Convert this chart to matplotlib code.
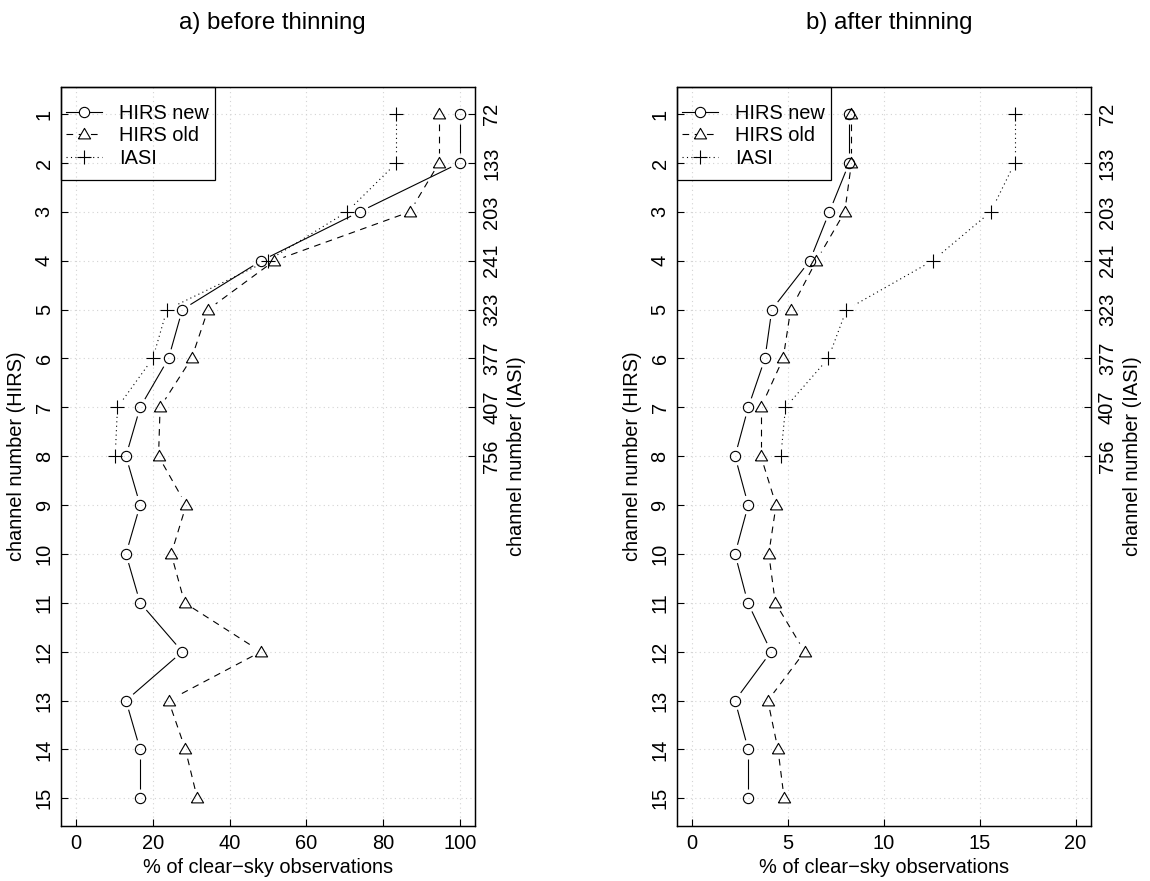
#!/usr/bin/env python3
"""Clear-sky observation percentages per HIRS channel, before/after thinning.

Two panels side by side; HIRS channel on the left axis, the matching IASI
channel on the right axis, R-style "type b" lines (segments stop short of
the markers).
"""

import matplotlib
matplotlib.use("Agg")
import matplotlib.pyplot as plt
import numpy as np
from matplotlib.lines import Line2D
from matplotlib.patches import Rectangle

plt.rcParams["font.family"] = ["Liberation Sans", "DejaVu Sans"]
plt.rcParams["font.size"] = 14.4

# HIRS channels 1..15; IASI channels only exist for the first eight
hirs_ch = np.arange(1, 16)
iasi_pos = np.arange(1, 9)
iasi_labels = ["72", "133", "203", "241", "323", "377", "407", "756"]

before_new = [100.0, 100.0, 73.9, 48.3, 27.7, 24.1, 16.7, 13.0,
              16.7, 13.0, 16.7, 27.7, 13.0, 16.7, 16.7]
before_old = [94.6, 94.6, 87.0, 51.7, 34.4, 30.1, 21.9, 21.5,
              28.7, 24.8, 28.3, 48.2, 24.1, 28.5, 31.6]
before_iasi = [83.5, 83.5, 70.6, 50.0, 23.7, 20.0, 10.8, 10.2]

after_new = [8.20, 8.20, 7.17, 6.15, 4.17, 3.81, 2.94, 2.25,
             2.94, 2.25, 2.92, 4.13, 2.25, 2.94, 2.94]
after_old = [8.32, 8.32, 7.97, 6.49, 5.15, 4.76, 3.60, 3.60,
             4.39, 4.01, 4.35, 5.88, 3.96, 4.49, 4.81]
after_iasi = [16.83, 16.83, 15.58, 12.55, 8.06, 7.11, 4.88, 4.64]

W, H = 1150, 881
AX_W, AX_H = 414.4, 739.0
TRI = [(-1.0, -0.72), (1.0, -0.72), (0.0, 1.0), (-1.0, -0.72)]

STYLES = {
    "new": dict(marker="o", ms=7.4, ls="-"),
    "old": dict(marker=TRI, ms=8.8, ls=(0, (6, 5))),
    "iasi": dict(marker="+", ms=9.5, ls=(0, (1, 3))),
}
LW = 0.8
GAP_PX = 9.5


def type_b(ax, x, y, style):
    """Markers plus connecting segments trimmed GAP_PX short of each marker."""
    pts = ax.transData.transform(np.column_stack([x, y]))
    inv = ax.transData.inverted()
    for p0, p1 in zip(pts[:-1], pts[1:]):
        d = p1 - p0
        L = np.hypot(*d)
        if L <= 2 * GAP_PX:
            continue
        u = d / L
        seg = inv.transform(np.array([p0 + u * GAP_PX, p1 - u * GAP_PX]))
        ax.plot(seg[:, 0], seg[:, 1], color="black", lw=LW,
                linestyle=style["ls"], solid_capstyle="butt",
                dash_capstyle="butt")
    ax.plot(x, y, linestyle="none", marker=style["marker"], ms=style["ms"],
            mfc="none", mec="black", mew=LW, color="black")


def panel(left_px, new, old, iasi, xmax, xstep, title, title_x):
    ax = fig.add_axes([left_px / W, 55.3 / H, AX_W / W, AX_H / H])
    pad = 0.04 * xmax
    ax.set_xlim(-pad, xmax + pad)
    ax.set_ylim(15.56, 0.44)

    xt = np.arange(0, xmax + 0.1, xstep)
    ax.set_xticks(xt)
    ax.set_xticklabels([f"{v:g}" for v in xt])
    ax.set_yticks(hirs_ch)
    ax.set_yticklabels([str(c) for c in hirs_ch])
    ax.grid(True, color="#d3d3d3", linestyle=(0, (1, 3)), linewidth=0.8)
    ax.set_axisbelow(True)

    ax.tick_params(direction="in", length=4.8, width=0.8, color="black")
    ax.tick_params(axis="x", pad=6)
    ax.tick_params(axis="y", pad=5, labelrotation=90)
    for lab in ax.get_yticklabels():
        lab.set_va("center")
    for sp in ax.spines.values():
        sp.set_linewidth(0.9)

    ax.set_xlabel("% of clear\u2212sky observations")
    ax.xaxis.set_label_coords(0.5, -0.044)
    ax.set_ylabel("channel number (HIRS)")
    ax.yaxis.set_label_coords(-0.084, 0.5)

    type_b(ax, new, hirs_ch, STYLES["new"])
    type_b(ax, old, hirs_ch, STYLES["old"])
    type_b(ax, iasi, iasi_pos, STYLES["iasi"])

    # legend box flush with the top-left corner, tight on the left like R's
    handles = [
        Line2D([], [], color="black", lw=LW, linestyle=s["ls"],
               marker=s["marker"], ms=s["ms"], mfc="white", mec="black",
               mew=LW)
        for s in STYLES.values()
    ]
    ax.legend(handles, ["HIRS new", "HIRS old", "IASI"],
              loc="upper left", bbox_to_anchor=(5 / AX_W, 1 - 17.0 / AX_H),
              borderaxespad=0, borderpad=0, frameon=False,
              handlelength=1.8, handletextpad=0.88, labelspacing=0.18,
              fontsize=14.4)
    ax.add_patch(Rectangle((0, 1 - 93.3 / AX_H), 154.3 / AX_W, 93.3 / AX_H,
                           transform=ax.transAxes, fill=False,
                           edgecolor="black", linewidth=0.9, zorder=5,
                           clip_on=False))

    ax2 = ax.twinx()
    ax2.set_ylim(ax.get_ylim())
    ax2.set_yticks(iasi_pos)
    ax2.set_yticklabels(iasi_labels)
    ax2.tick_params(direction="in", length=4.8, width=0.8, pad=5,
                    labelrotation=90)
    for lab in ax2.get_yticklabels():
        lab.set_va("center")
    ax2.set_ylabel("channel number (IASI)")
    ax2.yaxis.set_label_coords(1.078, 0.5)
    for sp in ax2.spines.values():
        sp.set_linewidth(0.9)

    fig.text(title_x / W, 1 - 22.5 / H, title, ha="center", va="center",
             fontsize=17.3)
    return ax


fig = plt.figure(figsize=(W / 100, H / 100), dpi=100)
panel(60.7, before_new, before_old, before_iasi, 100, 20,
      "a) before thinning", 272.5)
panel(676.5, after_new, after_old, after_iasi, 20, 5,
      "b) after thinning", 889.5)
fig.savefig("out.png", dpi=100)
